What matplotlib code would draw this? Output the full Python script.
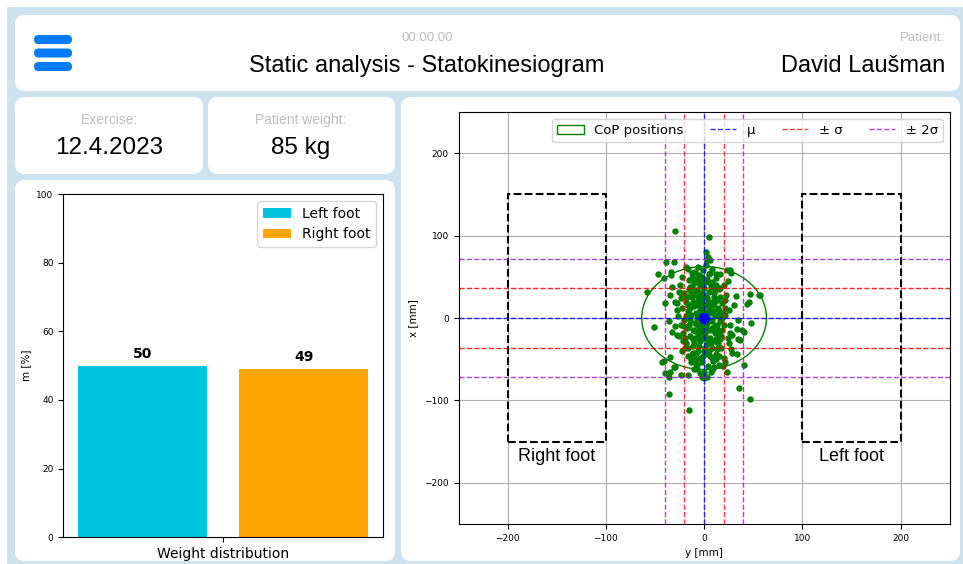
import matplotlib
matplotlib.use("Agg")
import matplotlib.pyplot as plt
from matplotlib.patches import FancyBboxPatch, Rectangle, Ellipse
from matplotlib import font_manager

# ---------------- data ----------------
header_time = "00:00:00"
title_text = "Static analysis - Statokinesiogram"
patient_label = "Patient:"
patient_name = "David Laušman"
exercise_label = "Exercise:"
exercise_date = "12.4.2023"
weight_label = "Patient weight:"
weight_value = "85 kg"

bar_labels = ["Left foot", "Right foot"]
bar_values = [50, 49]
bar_colors = ["#00c3e0", "#ffa500"]
bar_category = "Weight distribution"

# CoP positions: (y [mm] horizontal, x [mm] vertical)
cop_points = [
    (-30, 105), (5, 98), (2, 80), (4, 74), (3, 70), (-31, 68), (-39, 68), (-47, 53), (-58, 32),
    (-51, -11), (56, 28), (48, -6), (46, 19), (-43, -53), (-36, -92), (-15, -112), (36, -85),
    (47, -98), (-40, -67), (-35, -65), (41, -57), (23, -65), (-2, -71), (0, -73), (-31, -59),
    (35, -26), (39, -15), (26, 58), (16, 54), (12, 54), (6, 55), (-34, 56), (-41, 48),
    (27, 55), (32, 27), (47, 29), (57, 28), (44, 17), (30, 16), (25, 10), (21, 4),
    (-34, 52), (-33, 38), (-35, 28), (-26, 32), (-40, 18), (-28, 10), (-30, 20), (-14, 38),
    (-16, 60), (-9, 56), (-6, 48), (-11, 48), (-36, -4), (-33, -17), (-28, -21), (-41, -52),
    (-35, -47), (-30, -60), (-36, -71), (-24, -69), (-16, -69), (-4, -67), (1, -71),
    (-11, -43), (-19, -37), (-13, -53), (-7, -57), (-4, -49), (37, -27), (41, -17), (33, -44),
    (28, -43), (21, -53), (15, -57), (8, -63), (3, -71), (33, -13), (35, -2), (26, -9), (28, -21),
    (-5, 45), (-2, 50), (3, 47), (8, 44), (12, 40), (-10, 42), (-15, 35), (-20, 30), (-8, 33),
    (0, 36), (5, 32), (10, 30), (15, 35), (20, 40), (22, 28), (-24, 24), (-18, 20), (-12, 25),
    (-6, 22), (2, 26), (7, 20), (13, 22), (18, 18), (-22, 12), (-16, 8), (-10, 14), (-4, 10),
    (4, 14), (9, 8), (14, 12), (19, 6), (-27, 2), (-20, -2), (-13, 4), (-7, 0), (6, -2),
    (11, 3), (16, -4), (-24, -8), (-17, -12), (-9, -6), (-3, -10), (3, -6), (8, -12), (13, -8),
    (18, -14), (-21, -18), (-14, -22), (-6, -18), (1, -20), (6, -24), (11, -18), (16, -26),
    (-18, -30), (-11, -34), (-4, -28), (3, -32), (8, -36), (14, -32), (-8, -42), (0, -40),
    (6, -46), (12, -44), (-2, -54), (4, -58), (9, -52), (-25, 40), (-28, 18), (-30, -10),
    (25, -30), (27, -38), (24, 45), (-1, 58), (-6, 62), (2, 64), (8, 60), (-12, 55), (-16, -46),
    (-22, -40), (20, -48), (-3, 5), (1, 2), (-1, -3), (4, 7), (-6, 16), (10, 18), (-14, -2),
    (14, -20), (-2, 18), (2, -14), (-9, -24), (7, 38), (-4, 40), (-12, 48), (17, -36),
    (-19, -24), (21, 12), (-26, -22), (26, -18), (-7, 28), (5, -40), (-1, -46), (10, -60),
    (-10, -62), (0, -66), (12, 48), (-3, 30), (3, 24), (-11, -14), (9, -28), (-16, 16),
    (16, 26), (-5, -34), (1, 44), (19, -58), (-22, 50), (23, 58), (-18, 62), (6, 70),
    (-8, -50), (14, 4), (-13, -50),
    (-2, 12), (2, -8), (-5, -14), (5, 10), (-8, 6), (8, -4), (-11, 20), (11, -10), (-3, 24),
    (3, -26), (-7, 34), (7, -30), (-1, 38), (1, -36), (-9, 44), (9, 40), (-13, 30), (13, -38),
    (-15, -8), (15, 8), (-4, -22), (4, 20), (-6, -40), (6, 42), (-10, -30), (10, 26), (-2, -16),
    (2, 16), (-17, 26), (17, -22), (-12, -44), (12, -50), (-5, 52), (5, 54), (-8, -56), (8, -48),
    (0, 28), (0, -24), (-14, 12), (14, -14), (-18, 2), (18, 0), (-20, -10), (20, -8), (-7, -8),
    (7, 6), (-3, -4), (3, -2), (-9, -16), (9, 16), (-16, -36), (16, 36), (-11, -26), (11, 34),
    (-1, 8), (1, -10), (-6, 4), (6, -14), (-12, 38), (12, -26), (-4, 46), (4, -44), (-21, -28),
    (21, 22), (-24, 30), (24, -24), (-15, 46), (15, -46), (-7, -62), (7, -66),
]
cop_y = [p[0] for p in cop_points]
cop_x = [p[1] for p in cop_points]

mu_y, mu_x = 0.0, 0.0
sigma_y, sigma_x = 20.0, 36.0
ellipse_w, ellipse_h = 127.0, 125.0

# foot outlines: (label, y0, y1, x0, x1)
feet = [("Right foot", -200, -100, -150, 150), ("Left foot", 100, 200, -150, 150)]
foot_label_x = -168

ticks_mm = [-200, -100, 0, 100, 200]

# ---------------- fonts ----------------
avail = {f.name for f in font_manager.fontManager.ttflist}
narrow = "Liberation Sans Narrow" if "Liberation Sans Narrow" in avail else "Liberation Sans"

W, H = 963, 564
fig = plt.figure(figsize=(W / 100, H / 100), dpi=100)
fig.patch.set_facecolor("white")

bg = fig.add_axes([0, 0, 1, 1], zorder=-5)
bg.set_xlim(0, W)
bg.set_ylim(H, 0)
bg.axis("off")

panel_blue = "#cde1ee"
bg.add_patch(Rectangle((7, 7), W - 7, H - 7, facecolor=panel_blue, edgecolor="none"))


def panel(x0, y0, x1, y1, r=10):
    bg.add_patch(FancyBboxPatch((x0, y0), x1 - x0, y1 - y0,
                                boxstyle=f"round,pad=0,rounding_size={r}",
                                facecolor="white", edgecolor="none"))


panel(15, 15, 960, 91)
panel(15, 97, 203, 174)
panel(208, 97, 395, 174)
panel(15, 180, 395, 561)
panel(401, 97, 960, 561)

# hamburger icon
for yc in (39.5, 53, 66.5):
    bg.add_patch(FancyBboxPatch((34, yc - 4.5), 38, 9,
                                boxstyle="round,pad=0,rounding_size=4.5",
                                facecolor="#007bff", edgecolor="none"))

gray = "#bdbdbd"
bg.text(427, 38, header_time, ha="center", va="center", fontsize=9.5, color=gray, family=narrow)
bg.text(427, 66, title_text, ha="center", va="center", fontsize=17, color="black", family=narrow)
bg.text(945, 38, patient_label, ha="right", va="center", fontsize=9.5, color=gray, family=narrow)
bg.text(945, 66, patient_name, ha="right", va="center", fontsize=17, color="black", family=narrow)

bg.text(109, 120, exercise_label, ha="center", va="center", fontsize=10, color=gray, family="Liberation Sans")
bg.text(109, 148, exercise_date, ha="center", va="center", fontsize=17.5, color="black", family="Liberation Sans")
bg.text(301, 120, weight_label, ha="center", va="center", fontsize=10, color=gray, family="Liberation Sans")
bg.text(301, 148, weight_value, ha="center", va="center", fontsize=17.5, color="black", family="Liberation Sans")


def fig_rect(l, t, r, b):
    return [l / W, (H - b) / H, (r - l) / W, (b - t) / H]


# ---------------- bar chart ----------------
axb = fig.add_axes(fig_rect(63.3, 194, 382.7, 537.3))
xpos = [-0.5, 0.5]
for xp, v, c, lab in zip(xpos, bar_values, bar_colors, bar_labels):
    axb.bar(xp, v, width=0.8, color=c, label=lab)
    axb.text(xp, v + 1.5, f"{v}", ha="center", va="bottom", fontsize=10, fontweight="bold")
axb.set_ylim(0, 100)
axb.set_xticks([0])
axb.set_xticklabels([bar_category], fontsize=10)
axb.tick_params(axis="y", labelsize=6.5)
axb.set_ylabel("m [%]", fontsize=7.5)
axb.legend(loc="upper right", fontsize=10)

# ---------------- statokinesiogram ----------------
axs = fig.add_axes(fig_rect(458.5, 112, 949.7, 524))
axs.set_xlim(-250, 250)
axs.set_ylim(-250, 250)
axs.set_xticks(ticks_mm)
axs.set_yticks(ticks_mm)
axs.grid(True, color="#b0b0b0", lw=0.8)
axs.set_axisbelow(True)
axs.tick_params(labelsize=6.5)
axs.set_xlabel("y [mm]", fontsize=7.5)
axs.set_ylabel("x [mm]", fontsize=7.5)

for lab, y0, y1, x0, x1 in feet:
    axs.add_patch(Rectangle((y0, x0), y1 - y0, x1 - x0, fill=False, edgecolor="black",
                            linestyle="--", lw=1.5))
    axs.text((y0 + y1) / 2, foot_label_x, lab, ha="center", va="center", fontsize=13,
             family=narrow)

ell = Ellipse((mu_y, mu_x), ellipse_w, ellipse_h, fill=False, edgecolor="green", lw=1,
              label="CoP positions")
axs.add_patch(ell)
axs.plot(cop_y, cop_x, "o", color="green", ms=3.6, lw=0)

purple = "#9b1fd0"
axs.axvline(mu_y, color="blue", ls="--", lw=1, alpha=0.8, label="μ")
axs.axhline(mu_x, color="blue", ls="--", lw=1, alpha=0.8)
axs.axvline(mu_y + sigma_y, color="red", ls="--", lw=1, alpha=0.75, label="± σ")
axs.axvline(mu_y - sigma_y, color="red", ls="--", lw=1, alpha=0.75)
axs.axhline(mu_x + sigma_x, color="red", ls="--", lw=1, alpha=0.85)
axs.axhline(mu_x - sigma_x, color="red", ls="--", lw=1, alpha=0.85)
axs.axvline(mu_y + 2 * sigma_y, color=purple, ls="--", lw=1, alpha=0.85, label="± 2σ")
axs.axvline(mu_y - 2 * sigma_y, color=purple, ls="--", lw=1, alpha=0.85)
axs.axhline(mu_x + 2 * sigma_x, color=purple, ls="--", lw=1, alpha=0.85)
axs.axhline(mu_x - 2 * sigma_x, color=purple, ls="--", lw=1, alpha=0.85)
axs.plot([mu_y], [mu_x], "o", color="blue", ms=7)

axs.legend(loc="upper right", ncol=4, fontsize=9.5)

fig.savefig("out.png", dpi=100, facecolor="white")
